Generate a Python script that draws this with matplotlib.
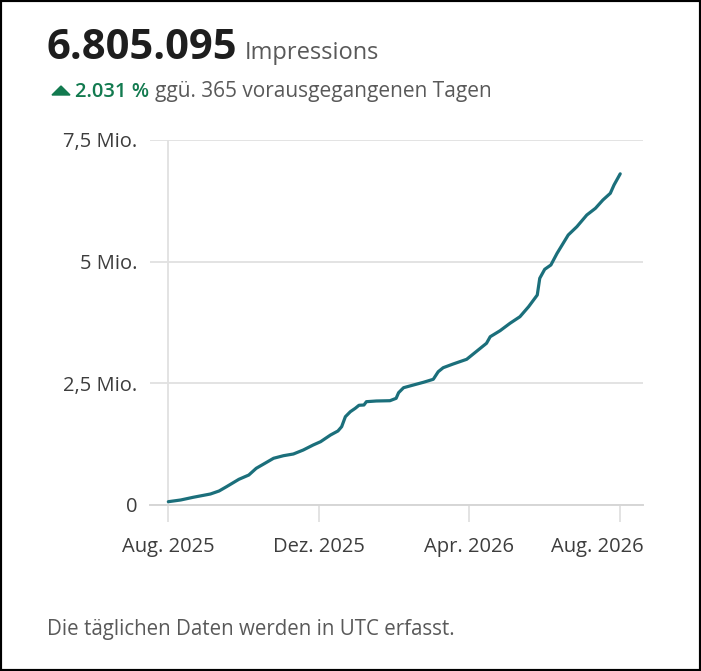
import matplotlib
matplotlib.use("Agg")
import matplotlib.pyplot as plt
import matplotlib.transforms as mtransforms
import pandas as pd
from matplotlib.patches import Polygon, Rectangle

# cumulative impressions (millions)
start = pd.Timestamp("2025-08-01")
day_offsets = [0, 10, 20, 34, 41, 47, 57, 65, 71, 77, 85, 93, 101, 109, 117,
               123, 131, 137, 140, 143, 147, 151, 154, 158, 160, 168, 179, 184,
               186, 190, 198, 206, 214, 218, 222, 230, 241, 248, 257, 260, 268,
               276, 284, 291, 298, 300, 304, 309, 314, 323, 330, 338, 345, 351,
               357, 360, 365]
impressions_m = [0.068, 0.103, 0.158, 0.226, 0.288, 0.376, 0.528, 0.616, 0.754,
                 0.842, 0.960, 1.013, 1.048, 1.130, 1.233, 1.301, 1.438, 1.521,
                 1.609, 1.814, 1.917, 1.987, 2.049, 2.055, 2.123, 2.137, 2.143,
                 2.192, 2.308, 2.410, 2.466, 2.521, 2.583, 2.739, 2.821, 2.897,
                 2.994, 3.138, 3.323, 3.458, 3.582, 3.734, 3.869, 4.075, 4.315,
                 4.658, 4.843, 4.932, 5.172, 5.548, 5.719, 5.959, 6.097, 6.267,
                 6.405, 6.576, 6.805]

x_ticks = ["2025-08-01", "2025-12-01", "2026-04-01", "2026-08-01"]
x_tick_labels = ["Aug. 2025", "Dez. 2025", "Apr. 2026", "Aug. 2026"]
y_ticks = [0, 2.5, 5, 7.5]
y_tick_labels = ["0", "2,5 Mio.", "5 Mio.", "7,5 Mio."]

total_label = "6.805.095"
change_label = "2.031 %"

LINE = "#1b6f7b"
GRID = "#e1e1e1"
TEXT = "#3d3d3d"
GREEN = "#127a4f"

plt.rcParams["font.family"] = ["Open Sans", "DejaVu Sans"]

W, H = 701, 671
fig = plt.figure(figsize=(W / 100, H / 100), dpi=100)


def fx(px):
    return px / W


def fy(py):
    return 1 - py / H


ax = fig.add_axes([fx(150), fy(505), fx(643) - fx(150), fy(140) - fy(505)])

dates = [start + pd.Timedelta(days=d) for d in day_offsets]
ax.plot(dates, impressions_m, color=LINE, lw=2.3, solid_joinstyle="round",
        solid_capstyle="round", zorder=3)

ax.set_ylim(0, 7.5)
ax.set_xlim(start - pd.Timedelta(days=14.8), start + pd.Timedelta(days=383.4))

ax.set_yticks(y_ticks)
ax.set_yticklabels(y_tick_labels)
ax.set_xticks([pd.Timestamp(t) for t in x_ticks])
ax.set_xticklabels(x_tick_labels)

ax.grid(axis="y", color=GRID, lw=1.3)
ax.axvline(start, color=GRID, lw=1.3, zorder=1)
ax.set_axisbelow(True)
for side in ["top", "right", "left"]:
    ax.spines[side].set_visible(False)
ax.spines["bottom"].set_color("#d6d6d6")
ax.spines["bottom"].set_linewidth(1.4)

ax.tick_params(axis="y", length=0, pad=9, labelsize=14.5, labelcolor=TEXT)
ax.tick_params(axis="x", length=12, width=1.3, color=GRID, pad=11,
               labelsize=14.5, labelcolor=TEXT)

# last date label is pushed inside the plot area
last = ax.get_xticklabels()[-1]
last.set_horizontalalignment("right")
last.set_transform(last.get_transform() +
                   mtransforms.ScaledTranslation(23 / 100, 0, fig.dpi_scale_trans))

# header
fig.text(fx(46), fy(59), total_label, fontsize=30, fontweight="bold",
         color="#1e1e1e", va="baseline")
fig.text(fx(245), fy(59), "Impressions", fontsize=17, color="#595959",
         va="baseline")
fig.patches.append(Polygon([[fx(52), fy(95)], [fx(70), fy(95)], [fx(61), fy(86)]],
                           closed=True, transform=fig.transFigure,
                           color=GREEN, figure=fig))
fig.text(fx(75), fy(97), change_label, fontsize=14.5, fontweight="semibold",
         color=GREEN, va="baseline")
fig.text(fx(155), fy(97), "ggü. 365 vorausgegangenen Tagen", fontsize=15,
         color="#595959", va="baseline")

fig.text(fx(47), fy(635), "Die täglichen Daten werden in UTC erfasst.",
         fontsize=14.8, color="#595959", va="baseline")

# card border
fig.patches.append(Rectangle((0, 0), 1, 1, transform=fig.transFigure,
                             fill=False, edgecolor="black", lw=3, figure=fig))

fig.savefig("out.png", dpi=100)
